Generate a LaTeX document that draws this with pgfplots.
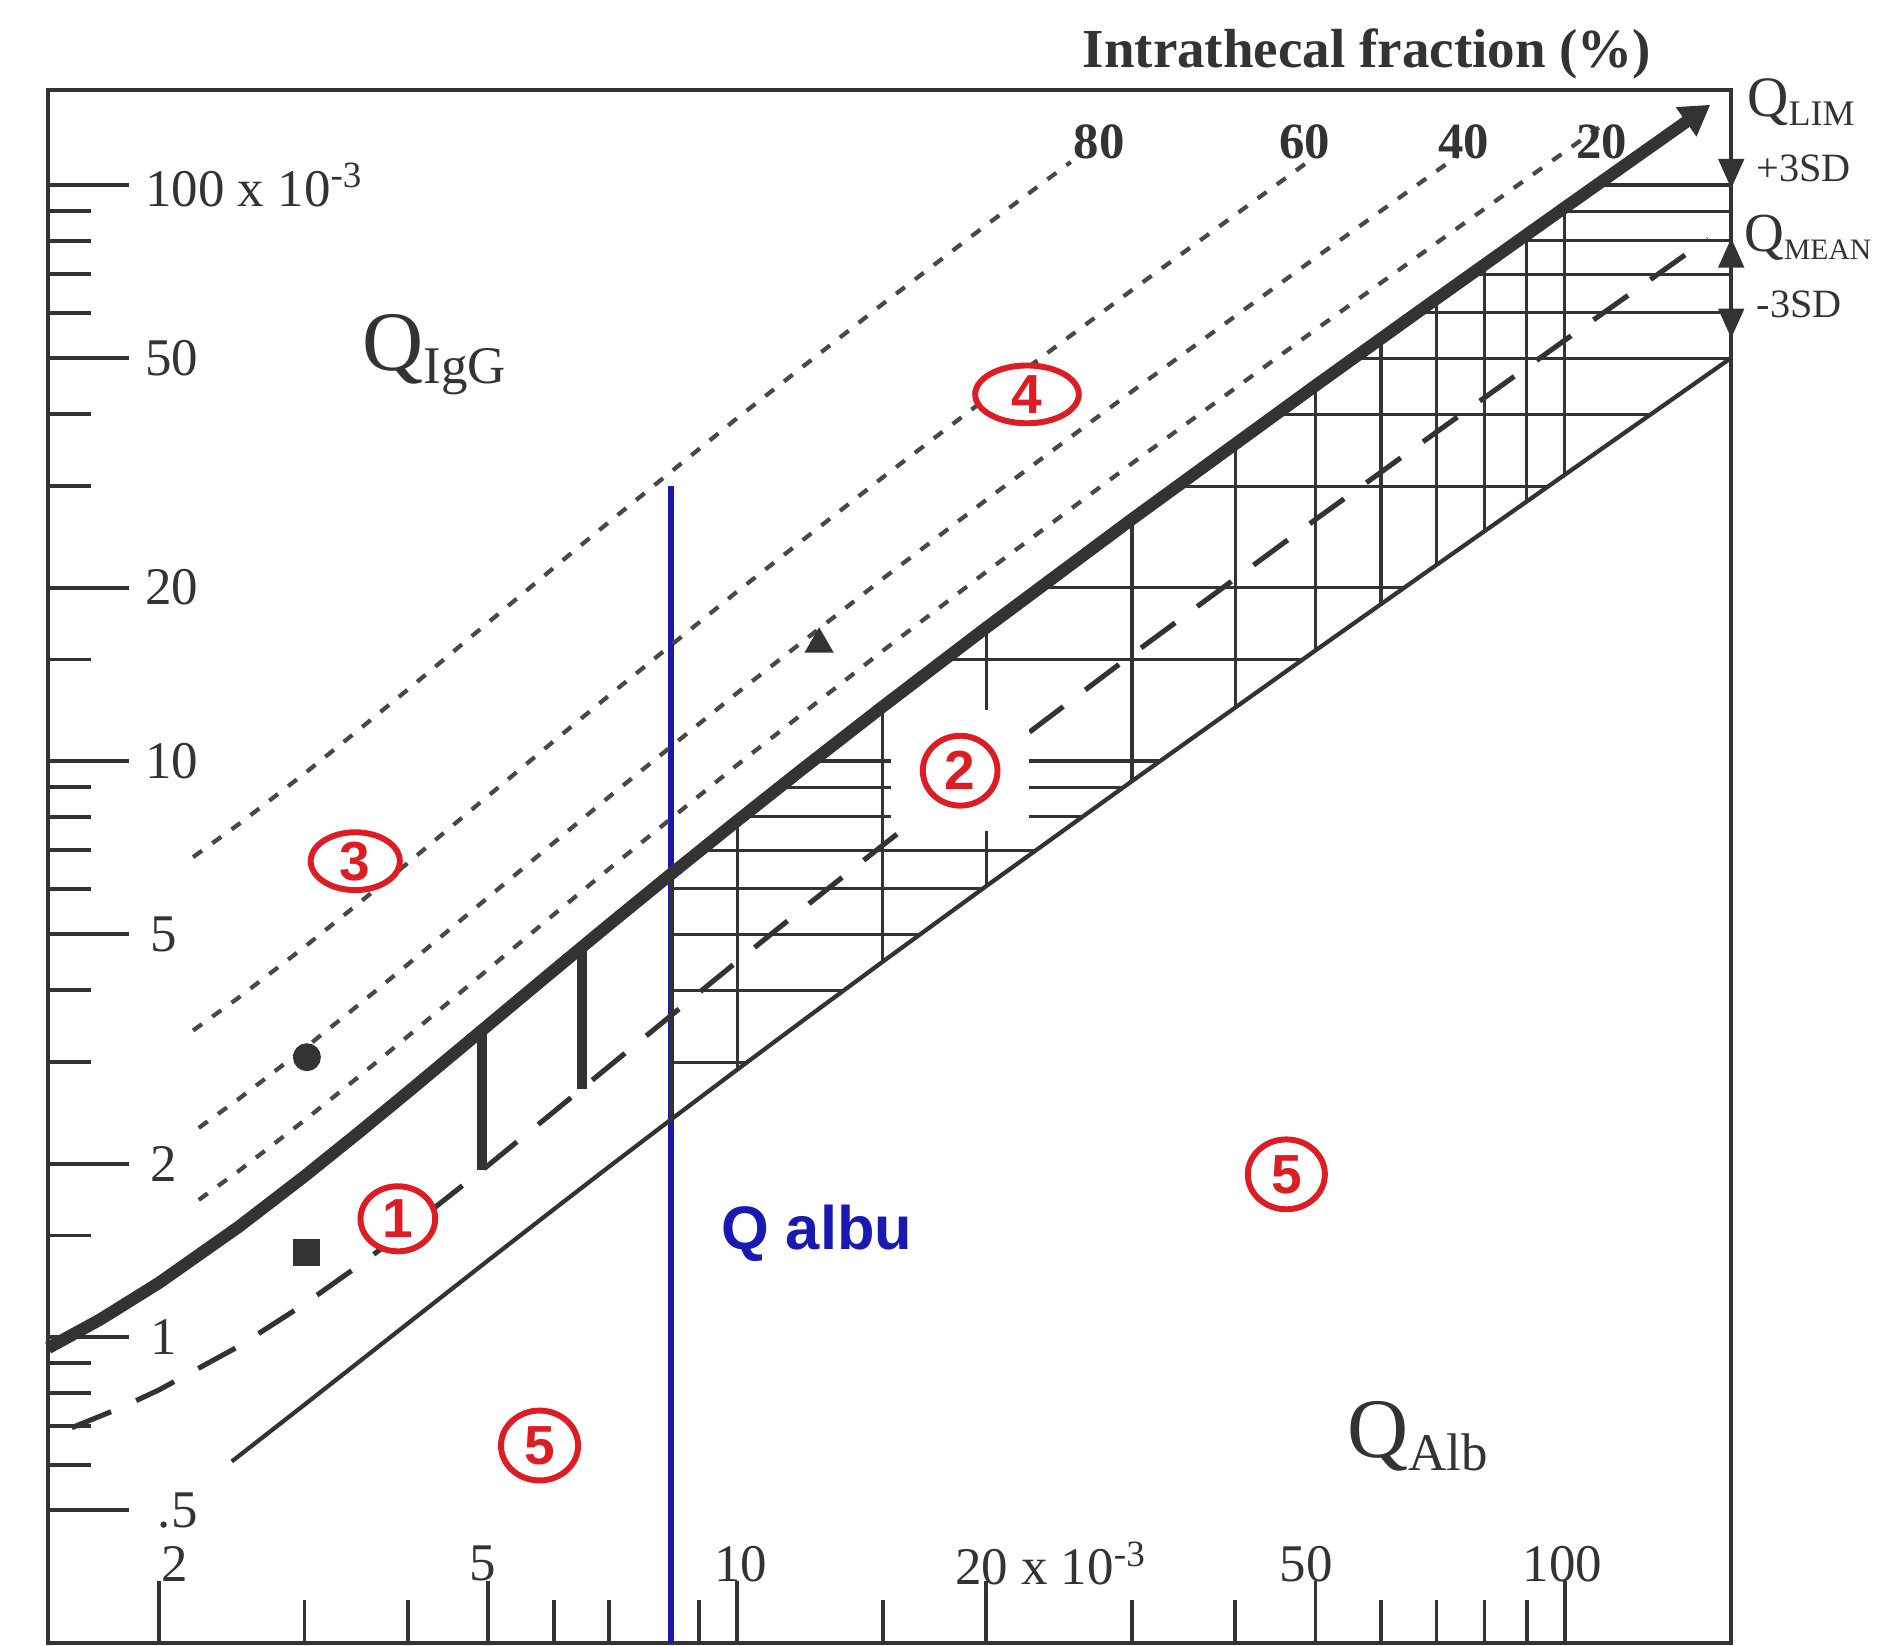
\documentclass[border=0pt]{standalone}
\usepackage{pgfplots}
\pgfplotsset{compat=1.18}
\usepackage{fontspec}
\setmainfont{Liberation Serif}
\newfontfamily\sansbold{Liberation Sans}
\usetikzlibrary{arrows.meta,shapes.geometric}
\definecolor{ink}{HTML}{333333}
\definecolor{dotgray}{HTML}{484848}
\definecolor{qblue}{HTML}{1A1AB2}
\definecolor{qred}{HTML}{DD1C24}
\begin{document}
\begin{tikzpicture}[
  hatch/.style={ink, line width=0.75pt},
  itf/.style={dotgray, line width=1.0pt, dash pattern=on 2.6pt off 3.0pt},
  circ/.style={ellipse, draw=qred, line width=1.4pt, fill=white, inner sep=0pt, text=qred, font=\sansbold\bfseries\fontsize{13}{13}\selectfont},
  tl/.style={text=ink, font=\fontsize{12.5}{12.5}\selectfont, inner sep=0pt},
]
\begin{axis}[
  at={(0,0)}, anchor=south west,
  scale only axis, width=13.97cm, height=12.89cm,
  xmode=log, ymode=log,
  xmin=1.47, xmax=159, ymin=0.294, ymax=146,
  axis line style={ink, line width=0.9pt},
  every tick/.style={ink, line width=0.9pt},
  xtick={2,5,10,20,50,100},
  minor xtick={3,4,6,7,9,15,30,40,60,70,80,90},
  ytick={0.5,1,2,5,10,20,50,100},
  minor ytick={0.6,0.7,0.8,0.9,1.5,3,4,6,7,8,9,15,30,40,60,70,80,90},
  extra y ticks={0.5,1,2,5,10,20,50,100},
  extra y tick labels={},
  extra y tick style={major tick length=0.68cm},
  xticklabels={}, yticklabels={},
  tick align=inside,
  xtick pos=bottom, ytick pos=left,
  major tick length=0.52cm, minor tick length=0.36cm,
  clip=false,
]
% hatch: horizontal grid lines between Q_lim and lower limit
\addplot[hatch] coordinates {(8.32,3) (10.28,3)};
\addplot[hatch] coordinates {(8.32,4) (13.46,4)};
\addplot[hatch] coordinates {(8.32,5) (16.63,5)};
\addplot[hatch] coordinates {(8.32,6) (19.80,6)};
\addplot[hatch] coordinates {(9.03,7) (23.0,7)};
\addplot[hatch] coordinates {(10.14,8) (26.12,8)};
\addplot[hatch] coordinates {(11.24,9) (29.28,9)};
\addplot[hatch] coordinates {(12.34,10) (32.45,10)};
\addplot[hatch] coordinates {(17.79,15) (48.24,15)};
\addplot[hatch] coordinates {(23.2,20) (64.03,20)};
\addplot[hatch] coordinates {(34.0,30) (95.6,30)};
\addplot[hatch] coordinates {(44.77,40) (127.2,40)};
\addplot[hatch] coordinates {(55.54,50) (158.7,50)};
\addplot[hatch] coordinates {(66.3,60) (159,60)};
\addplot[hatch] coordinates {(77.06,70) (159,70)};
\addplot[hatch] coordinates {(87.8,80) (159,80)};
\addplot[hatch] coordinates {(98.57,90) (159,90)};
\addplot[hatch] coordinates {(109.3,100) (159,100)};
% hatch: vertical grid lines
\addplot[hatch] coordinates {(10,2.912) (10,7.875)};
\addplot[hatch] coordinates {(15,4.485) (15,12.435)};
\addplot[hatch] coordinates {(20,6.064) (20,17.04)};
\addplot[hatch] coordinates {(30,9.226) (30,26.29)};
\addplot[hatch] coordinates {(40,12.39) (40,35.57)};
\addplot[hatch] coordinates {(50,15.56) (50,44.86)};
\addplot[hatch] coordinates {(60,18.73) (60,54.15)};
\addplot[hatch] coordinates {(70,21.89) (70,63.44)};
\addplot[hatch] coordinates {(80,25.06) (80,72.73)};
\addplot[hatch] coordinates {(90,28.22) (90,82.03)};
\addplot[hatch] coordinates {(100,31.39) (100,91.33)};
% blue Q albu line
\addplot[qblue, line width=1.4pt] coordinates {(8.32,0.294) (8.32,30)};
% left boundary of hatched area
\addplot[ink, line width=1.0pt] coordinates {(8.32,2.386) (8.32,6.365)};
% intrathecal fraction lines 80, 60, 40, 20 %
\addplot[itf] coordinates {(2.2,6.81) (2.5,7.775) (3,9.51) (3.5,11.37) (4,13.31) (5,17.39) (6,21.64) (7,25.99) (10,39.38) (15,62.18) (20,85.2) (25.3,109.6)};
\addplot[itf] coordinates {(2.2,3.405) (2.5,3.888) (3,4.755) (3.5,5.683) (4,6.655) (5,8.695) (6,10.82) (7,12.99) (10,19.69) (15,31.09) (20,42.6) (30,65.7) (49,109.8)};
\addplot[itf] coordinates {(2.235,2.307) (2.5,2.592) (3,3.17) (3.5,3.788) (4,4.437) (5,5.797) (6,7.21) (7,8.662) (10,13.125) (15,20.725) (20,28.4) (30,43.82) (50,74.77) (74,111.9)};
\addplot[itf] coordinates {(2.235,1.73) (2.5,1.944) (3,2.378) (3.5,2.841) (4,3.328) (5,4.348) (6,5.41) (7,6.496) (10,9.844) (15,15.54) (20,21.3) (30,32.86) (50,56.08) (70,79.3) (110,125.8)};
% Q mean (dashed)
\addplot[ink, line width=1.2pt, dash pattern=on 10pt off 6.5pt] coordinates {(1.57,0.696) (1.8,0.754) (2,0.809) (2.5,0.964) (3,1.141) (3.5,1.335) (4,1.542) (5,1.986) (6,2.459) (7,2.95) (8.32,3.616) (10,4.487) (12,5.541) (15,7.145) (20,9.85) (30,15.3) (50,26.26) (70,37.24) (100,53.73) (149,80.65)};
% lower limit
\addplot[ink, line width=1.0pt] coordinates {(2.45,0.608) (2.7,0.678) (3,0.763) (3.5,0.908) (4,1.056) (5,1.358) (6,1.665) (7,1.975) (8.32,2.386) (10,2.912) (12,3.540) (15,4.485) (20,6.064) (30,9.226) (50,15.56) (70,21.89) (100,31.39) (159,50.1)};
% thick bars in region 1
\addplot[ink, line width=2.4pt] coordinates {(4.92,3.41) (4.92,1.95)};
\addplot[ink, line width=2.4pt] coordinates {(6.49,4.75) (6.49,2.70)};
% white box around label 2
\node[fill=white, minimum width=1.15cm, minimum height=1.0cm, inner sep=0pt] at (axis cs:18.6,9.62) {};
% Q lim (thick)
\addplot[ink, line width=2.9pt, -{Triangle[length=7pt,width=8pt]}] coordinates {(1.47,0.957) (1.7,1.073) (2,1.241) (2.5,1.555) (3,1.902) (3.5,2.273) (4,2.662) (5,3.478) (6,4.327) (7,5.197) (8.32,6.365) (10,7.875) (12,9.69) (15,12.435) (20,17.04) (30,26.29) (50,44.86) (70,63.44) (100,91.33) (150,137.8)};
% markers
\addplot[only marks, mark=*, mark size=3.1pt, ink] coordinates {(3.02,3.06)};
\addplot[only marks, mark=square*, mark size=3.0pt, ink] coordinates {(3.02,1.40)};
\addplot[only marks, mark=triangle*, mark size=3.6pt, ink] coordinates {(12.56,15.95)};
% right-border arrows
\draw[ink, line width=0.9pt, -{Triangle[length=7pt,width=6pt]}] (axis cs:159,125) -- (axis cs:159,98.6);
\draw[ink, line width=0.9pt, -{Triangle[length=7pt,width=6pt]}] (axis cs:159,70) -- (axis cs:159,80.9);
\draw[ink, line width=0.9pt, -{Triangle[length=7pt,width=6pt]}] (axis cs:159,64) -- (axis cs:159,54.2);
% circled region numbers
\node[circ, minimum width=0.62cm, minimum height=0.54cm] at (axis cs:3.89,1.604) {1};
\node[circ, minimum width=0.62cm, minimum height=0.58cm] at (axis cs:18.6,9.62) {2};
\node[circ, minimum width=0.74cm, minimum height=0.48cm] at (axis cs:3.455,6.70) {3};
\node[circ, minimum width=0.86cm, minimum height=0.48cm] at (axis cs:22.4,43.3) {4};
\node[circ, minimum width=0.64cm, minimum height=0.58cm] at (axis cs:46.1,1.916) {5};
\node[circ, minimum width=0.64cm, minimum height=0.58cm] at (axis cs:5.77,0.648) {5};
% axis titles
\node[anchor=base west, text=ink, font=\fontsize{20}{20}\selectfont, inner sep=0pt] at (axis cs:3.515,47.6) {Q\textsubscript{\fontsize{12.5}{12.5}\selectfont IgG}};
\node[anchor=base west, text=ink, font=\fontsize{20}{20}\selectfont, inner sep=0pt] at (axis cs:54.5,0.618) {Q\textsubscript{\fontsize{12.5}{12.5}\selectfont Alb}};
\node[anchor=base west, text=qblue, font=\sansbold\bfseries\fontsize{14.5}{14.5}\selectfont, inner sep=0pt] at (axis cs:9.54,1.42) {Q albu};
% left tick labels
\node[tl, anchor=west] at (axis cs:1.922,100) {100 x 10\textsuperscript{-3}};
\node[tl, anchor=west] at (axis cs:1.922,50) {50};
\node[tl, anchor=west] at (axis cs:1.922,20) {20};
\node[tl, anchor=west] at (axis cs:1.922,10) {10};
\node[tl, anchor=west] at (axis cs:1.95,5) {5};
\node[tl, anchor=west] at (axis cs:1.95,2) {2};
\node[tl, anchor=west] at (axis cs:1.95,1) {1};
\node[tl, anchor=west] at (axis cs:1.99,0.5) {.5};
% bottom tick labels
\node[tl] at (axis cs:2.09,0.404) {2};
\node[tl] at (axis cs:4.92,0.404) {5};
\node[tl] at (axis cs:10.1,0.404) {10};
\node[tl, anchor=west] at (axis cs:18.3,0.404) {20 x 10\textsuperscript{-3}};
\node[tl] at (axis cs:48.7,0.404) {50};
\node[tl] at (axis cs:99.4,0.404) {100};
% intrathecal fraction labels
\node[text=ink, font=\bfseries\fontsize{13}{13}\selectfont, inner sep=0pt] at (axis cs:57.7,169) {Intrathecal fraction (\%)};
\node[text=ink, font=\bfseries\fontsize{12}{12}\selectfont, inner sep=0pt] at (axis cs:27.4,118.9) {80};
\node[text=ink, font=\bfseries\fontsize{12}{12}\selectfont, inner sep=0pt] at (axis cs:48.5,118.9) {60};
\node[text=ink, font=\bfseries\fontsize{12}{12}\selectfont, inner sep=0pt] at (axis cs:75.5,118.9) {40};
\node[text=ink, font=\bfseries\fontsize{12}{12}\selectfont, inner sep=0pt] at (axis cs:110.9,118.9) {20};
% right labels
\node[anchor=west, text=ink, font=\fontsize{13.5}{13.5}\selectfont, inner sep=0pt] at (axis cs:165.9,139.4) {Q\textsubscript{\fontsize{8.5}{8.5}\selectfont LIM}};
\node[anchor=west, text=ink, font=\fontsize{9.5}{9.5}\selectfont, inner sep=0pt] at (axis cs:170.3,107) {+3SD};
\node[anchor=west, text=ink, font=\fontsize{13}{13}\selectfont, inner sep=0pt] at (axis cs:164.5,80.9) {Q\textsubscript{\fontsize{7}{7}\selectfont MEAN}};
\node[anchor=west, text=ink, font=\fontsize{9.5}{9.5}\selectfont, inner sep=0pt] at (axis cs:170.3,62.1) {-3SD};
\end{axis}
\pgfresetboundingbox
\path[use as bounding box] (-0.40,-0.02) rectangle (15.28,13.64);
\end{tikzpicture}
\end{document}
